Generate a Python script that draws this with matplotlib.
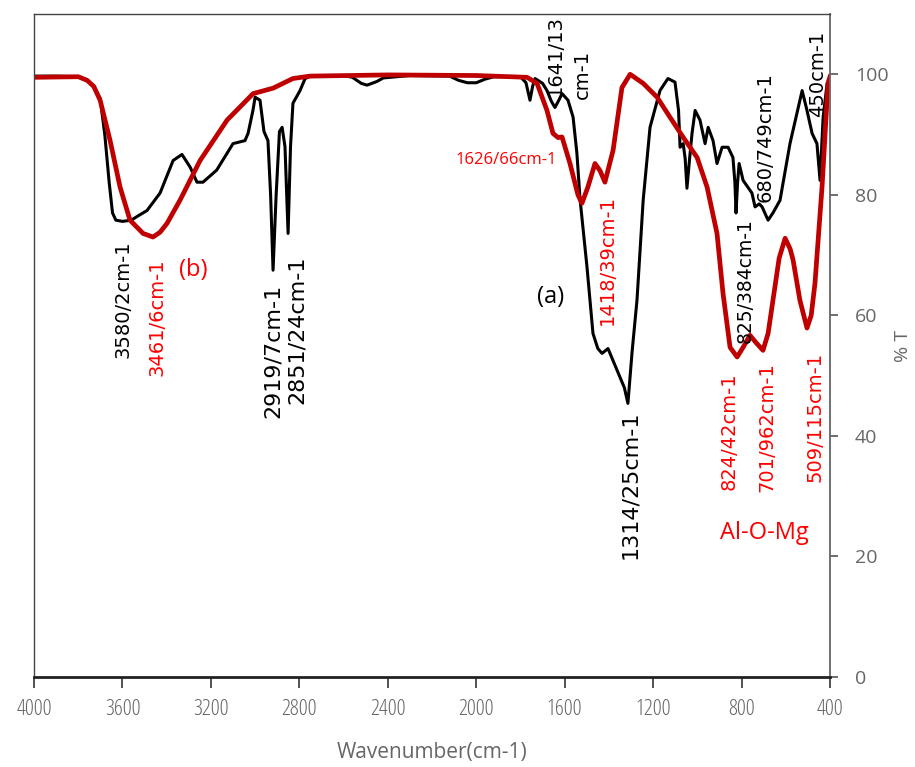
import matplotlib.pyplot as plt
import numpy as np

# FTIR spectra, curve (a) black and curve (b) red
wn_a = [4000, 3900, 3800, 3760, 3730, 3701, 3680, 3660, 3645, 3630, 3600, 3560, 3530, 3489,
        3430, 3371, 3331, 3294, 3263, 3236, 3174, 3100, 3046, 3032, 3010, 3000, 2978, 2960,
        2942, 2930, 2919, 2905, 2890, 2878, 2865, 2851, 2840, 2829, 2797, 2774, 2740, 2600,
        2560, 2520, 2494, 2450, 2420, 2300, 2120, 2080, 2040, 2000, 1960, 1920, 1800, 1775,
        1757, 1745, 1734, 1700, 1680, 1660, 1644, 1625, 1612, 1585, 1562, 1545, 1530, 1499,
        1472, 1450, 1431, 1404, 1363, 1330, 1314, 1295, 1273, 1245, 1214, 1169, 1133, 1101,
        1085, 1078, 1064, 1055, 1047, 1035, 1024, 1010, 988, 965, 951, 929, 911, 888, 861,
        839, 830, 825, 818, 811, 793, 753, 739, 720, 707, 680, 658, 626, 581, 526, 504, 481,
        459, 445, 431, 413, 400]
t_a = [99.7, 99.7, 99.6, 99.0, 98.0, 96.0, 90.0, 82.0, 77.0, 75.8, 75.6, 75.8, 76.5, 77.4,
       80.3, 85.7, 86.7, 84.6, 82.1, 82.1, 84.1, 88.5, 89.0, 90.2, 94.0, 96.2, 95.7, 90.5,
       89.0, 80.0, 67.5, 80.0, 90.5, 91.2, 88.0, 73.6, 88.0, 95.2, 97.3, 99.3, 99.8, 99.8,
       99.5, 98.5, 98.2, 98.8, 99.4, 99.8, 99.7, 99.0, 98.6, 98.6, 99.2, 99.6, 99.6, 98.6,
       95.7, 98.0, 99.3, 98.5, 97.3, 95.5, 94.5, 95.8, 96.8, 95.7, 92.9, 87.0, 79.1, 68.0,
       57.0, 54.5, 53.7, 54.5, 50.9, 48.0, 45.4, 54.0, 62.5, 79.1, 91.2, 97.3, 99.3, 98.7,
       94.0, 87.9, 88.5, 86.0, 81.1, 86.0, 90.2, 94.0, 92.4, 88.5, 91.2, 89.0, 85.2, 87.9, 87.9,
       86.2, 82.0, 77.0, 82.0, 85.2, 82.4, 80.3, 78.0, 78.5, 78.0, 75.8, 77.0, 79.1, 88.5, 97.3,
       94.0, 90.2, 88.5, 82.4, 92.9, 98.5, 98.7]

wn_b = [4000, 3800, 3760, 3730, 3701, 3656, 3611, 3566, 3507, 3462, 3430, 3398, 3340, 3249,
        3127, 3009, 2919, 2829, 2752, 2400, 2000, 1770, 1725, 1680, 1653, 1630, 1612, 1576,
        1540, 1522, 1495, 1463, 1440, 1418, 1381, 1341, 1304, 1245, 1182, 1124, 1065, 1001,
        956, 911, 884, 852, 820, 793, 762, 735, 703, 680, 658, 630, 603, 580, 567, 536, 504,
        485, 468, 436, 409, 400]
t_b = [99.5, 99.6, 99.0, 98.0, 95.7, 89.0, 81.3, 75.8, 73.6, 73.0, 73.8, 75.3, 79.1, 85.7,
       92.4, 96.8, 97.7, 99.3, 99.7, 99.9, 99.8, 99.5, 98.5, 94.0, 90.2, 89.5, 89.6, 85.2,
       80.0, 78.6, 81.3, 85.2, 84.0, 82.1, 87.4, 97.8, 100.0, 98.5, 96.2, 92.9, 89.6, 86.2,
       81.3, 73.6, 63.7, 54.7, 53.1, 54.7, 56.7, 55.5, 54.2, 57.0, 62.5, 69.5, 72.8, 71.0,
       69.2, 62.5, 57.9, 60.0, 65.3, 81.3, 98.5, 99.6]

x_ticks = [4000, 3600, 3200, 2800, 2400, 2000, 1600, 1200, 800, 400]
y_ticks = [0, 20, 40, 60, 80, 100]

gray = '#666666'
red_line = '#C00000'
red_txt = '#FF0000'
ofont = 'Open Sans'

fig = plt.figure(figsize=(9.15, 7.67), dpi=100)
ax = fig.add_axes([0.0372, 0.1173, 0.8699, 0.8644])

ax.plot(wn_a, t_a, color='black', lw=2.2, solid_joinstyle='round')
ax.plot(wn_b, t_b, color=red_line, lw=3.4, solid_joinstyle='round')

ax.set_xlim(4000, 400)
ax.set_ylim(0, 110)
ax.set_xticks(x_ticks)
ax.set_yticks(y_ticks)
ax.yaxis.tick_right()
ax.yaxis.set_label_position('right')
ax.tick_params(axis='x', direction='out', length=8, width=1.2, colors='#333333',
               labelcolor=gray, labelsize=16, pad=8)
ax.tick_params(axis='y', direction='out', length=6, width=1.2, colors='#555555',
               labelcolor=gray, labelsize=14, pad=12)
for lab in ax.get_xticklabels():
    lab.set_fontfamily(ofont)
    lab.set_fontstretch('condensed')
for lab in ax.get_yticklabels():
    lab.set_fontfamily(ofont)

for s in ['top', 'left']:
    ax.spines[s].set_color('#444444')
    ax.spines[s].set_linewidth(1.0)
ax.spines['right'].set_color('#666666')
ax.spines['right'].set_linewidth(1.3)
ax.spines['bottom'].set_color('#222222')
ax.spines['bottom'].set_linewidth(2.0)

ax.set_xlabel('Wavenumber(cm-1)', fontsize=15, color=gray, family=ofont, labelpad=16)
ax.set_ylabel('% T', fontsize=14, color=gray, family=ofont, labelpad=4)

# rotated peak labels (x in data, y top of text in data)
def vlabel(x, ytop, txt, col, size=14):
    ax.text(x, ytop, txt, rotation=90, ha='center', va='top', color=col,
            fontsize=size, family='DejaVu Sans')

vlabel(3597, 72.5, '3580/2cm-1', 'black')
vlabel(3444, 69.5, '3461/6cm-1', red_txt)
vlabel(2919, 65.3, '2919/7cm-1', 'black', size=16)
vlabel(2811, 70.0, '2851/24cm-1', 'black', size=16)
vlabel(1304, 44.3, '1314/25cm-1', 'black', size=16)
vlabel(1408, 80.0, '1418/39cm-1', red_txt)
vlabel(784, 76.1, '825/384cm-1', 'black', size=13.5)
vlabel(694, 100.3, '680/749cm-1', 'black')
vlabel(454, 107.3, '450cm-1', 'black')
vlabel(857, 50.6, '824/42cm-1', red_txt)
vlabel(685, 52.2, '701/962cm-1', red_txt)
vlabel(468, 53.9, '509/115cm-1', red_txt)
vlabel(1644, 109.8, '1641/13', 'black')
vlabel(1522, 104.0, 'cm-1', 'black')

ax.text(1635, 85.8, '1626/66cm-1', ha='right', va='center', color=red_txt,
        fontsize=12, family=ofont)
ax.text(3281, 67.5, '(b)', ha='center', va='center', color=red_txt, fontsize=17,
        family=ofont)
ax.text(1666, 63.0, '(a)', ha='center', va='center', color='black', fontsize=17,
        family=ofont)
ax.text(897, 23.9, 'Al-O-Mg', ha='left', va='center', color=red_txt, fontsize=17, family=ofont)

fig.savefig('out.png', dpi=100)
